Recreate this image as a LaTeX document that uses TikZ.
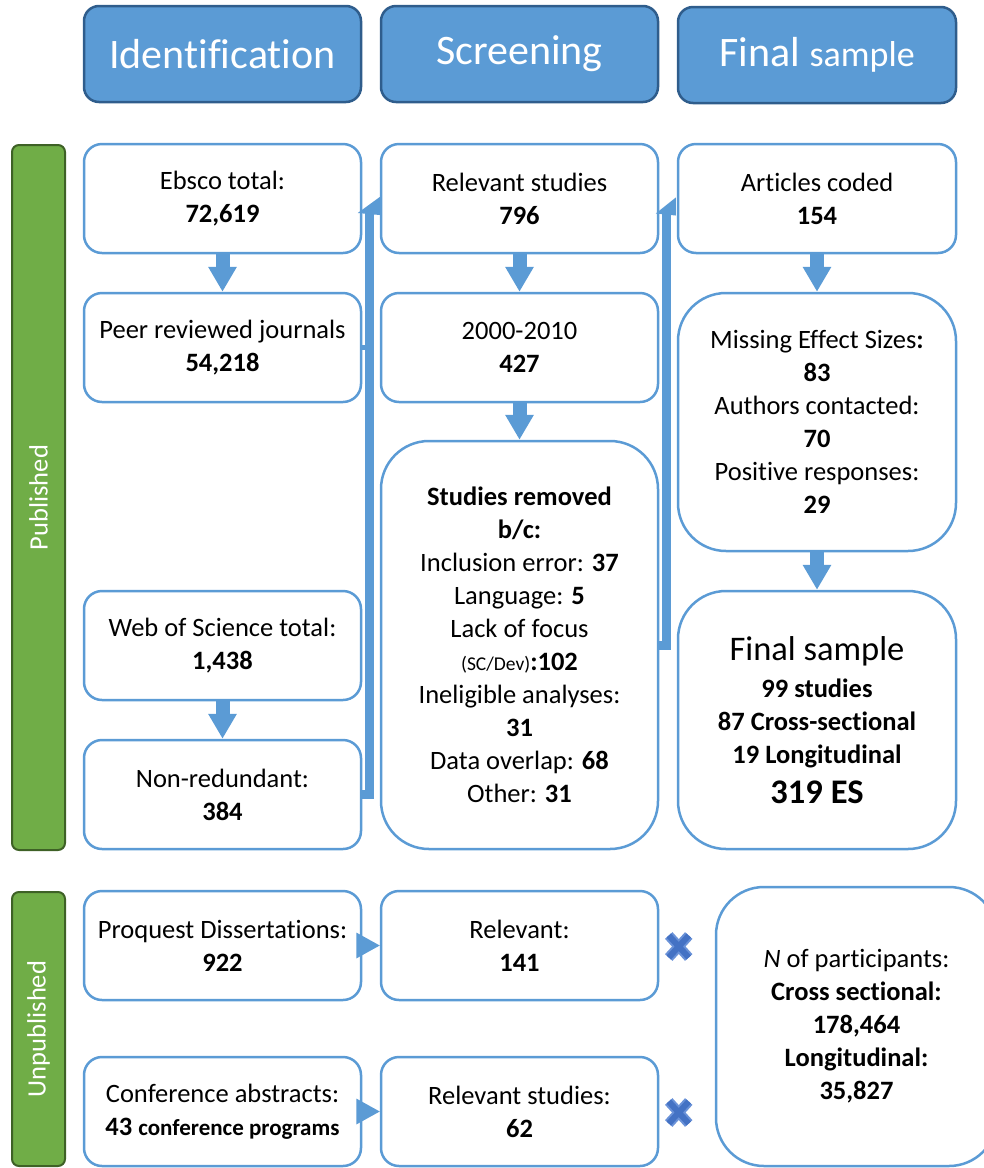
\documentclass[tikz,border=0pt]{standalone}
\usepackage{fontspec}
\setmainfont{Carlito}[RawFeature={-liga,-clig,-calt,-dlig}]
\usetikzlibrary{arrows.meta,calc}
\definecolor{acc}{HTML}{5B9BD5}
\definecolor{accdark}{HTML}{2F5D8C}
\definecolor{grn}{HTML}{70AD47}
\definecolor{grndark}{HTML}{3E6126}
\definecolor{xblue}{HTML}{4472C4}
\definecolor{xlight}{HTML}{6A92D8}
\tikzset{
 base/.style={font=\fontsize{26.5}{33}\selectfont, align=center, inner sep=0pt},
 box/.style={base, draw=acc, line width=2.5pt, rounded corners=18pt, minimum width=277pt, minimum height=109pt, fill=white},
 bigbox/.style={box, rounded corners=48pt},
 headbox/.style={draw=accdark, line width=2.5pt, fill=acc, rounded corners=15pt, minimum width=277pt, minimum height=96pt, text=white, font=\fontsize{42}{50}\selectfont, inner sep=0pt},
 sidebar/.style={draw=grndark, line width=2pt, fill=grn, rounded corners=7pt, text=white, rotate=90, minimum height=53pt, font=\fontsize{26.5}{32}\selectfont, inner sep=0pt},
 downarrow/.style={draw=acc, line width=14pt, -{Triangle[width=27pt,length=25pt]}},
 shaft/.style={draw=acc, line width=9pt, line join=miter},
 xmarkout/.style={draw=xlight, line width=10pt},
 xmarkin/.style={draw=xblue, line width=6pt},
}
\begin{document}
\begin{tikzpicture}[x=1pt,y=-1pt]
\useasboundingbox (0,0) rectangle (984,1168);
\clip (0,0) rectangle (984,1168);

% headers
\node[headbox] (hid) at (222.5,54) {Identification};
\node[headbox] (hsc) at (519.5,54) {Screening};
\node[headbox, minimum width=278pt] (hfs) at (817,55) {Final {\fontsize{36}{44}\selectfont sample}};

% side bars
\node[sidebar, minimum width=705pt] (pub) at (38.5,497.5) {Published};
\node[sidebar, minimum width=274pt] (unp) at (38.5,1029) {Unpublished};

% identification column
\node[box] (ebsco) at (222.5,198.5) {Ebsco total:\\\textbf{72,619}};
\node[box] (peer) at (222.5,347.5) {Peer reviewed journals\\\textbf{54,218}};
\node[box] (wos) at (222.5,645.5) {Web of Science total:\\\textbf{1,438}};
\node[box] (nonred) at (222.5,794.5) {Non-redundant:\\\textbf{384}};

% screening column
\node[box] (rel) at (519.5,198.5) {Relevant studies\\\textbf{796}};
\node[box] (y2000) at (519.5,347.5) {2000-2010\\\textbf{427}};
\node[bigbox, minimum height=408pt] (rem) at (519.5,645) {\textbf{Studies removed}\\\textbf{b/c:}\\Inclusion error: \textbf{37}\\Language: \textbf{5}\\Lack of focus\\{\fontsize{19.5}{22}\selectfont (SC/Dev)}\textbf{:102}\\Ineligible analyses:\\\textbf{31}\\Data overlap: \textbf{68}\\Other: \textbf{31}};

% final sample column
\node[box, minimum width=278pt] (coded) at (817,198.5) {Articles coded\\\textbf{154}};
\node[bigbox, minimum width=278pt, minimum height=258pt] (miss) at (817,422) {Missing Effect Sizes\textbf{:}\\\textbf{83}\\Authors contacted:\\\textbf{70}\\Positive responses:\\\textbf{29}};
\node[bigbox, minimum width=278pt, minimum height=258pt] (final) at (817,720) {{\fontsize{34.5}{40}\selectfont Final sample}\\[4pt]\textbf{99 studies}\\\textbf{87 Cross-sectional}\\\textbf{19 Longitudinal}\\[7pt]{\fontsize{34.5}{40}\selectfont\bfseries 319 ES}};

% unpublished
\node[box] (pq) at (222.5,945.5) {Proquest Dissertations:\\\textbf{922}};
\node[box] (rel1) at (519.5,945.5) {Relevant:\\\textbf{141}};
\node[box] (conf) at (222.5,1111.5) {Conference abstracts:\\\textbf{43 {\fontsize{23}{28}\selectfont conference programs}}};
\node[box] (rel2) at (519.5,1111.5) {Relevant studies:\\\textbf{62}};
\node[bigbox, minimum width=281pt, minimum height=279pt] (npart) at (856.5,1026.5) {\textit{N} of participants:\\\textbf{Cross sectional:}\\\textbf{178,464}\\\textbf{Longitudinal:}\\\textbf{35,827}};

% down arrows
\draw[downarrow] (ebsco) -- (peer);
\draw[downarrow] (wos) -- (nonred);
\draw[downarrow] (rel) -- (y2000);
\draw[downarrow] (y2000) -- (rem);
\draw[downarrow] (coded) -- (miss);
\draw[downarrow] (miss) -- (final);

% long connector 1
\coordinate (t1) at ($(rel.west)+(-10.5,14.5)$);
\draw[shaft] (nonred.east) -- (nonred.east -| t1) -- (t1);
\draw[draw=acc, line width=5pt] (peer.east) -- (peer.east -| t1);
\fill[acc] ($(t1)+(-11.5,0)$) -- ($(t1)+(10.5,-16)$) -- ($(t1)+(10.5,2)$) -- cycle;

% long connector 2
\coordinate (t2) at ($(coded.west)+(-10,15)$);
\draw[shaft] (rem.east) -- (rem.east -| t2) -- (t2);
\fill[acc] ($(t2)+(-11,0)$) -- ($(t2)+(9,-16)$) -- ($(t2)+(9,2)$) -- cycle;

% horizontal heads
\fill[acc] ([xshift=-6pt,yshift=13pt]pq.east) -- (rel1.west) -- ([xshift=-6pt,yshift=-13pt]pq.east) -- cycle;
\fill[acc] ([xshift=-6pt,yshift=13pt]conf.east) -- (rel2.west) -- ([xshift=-6pt,yshift=-13pt]conf.east) -- cycle;

% x marks
\coordinate (x1) at ($(rel1.east)+(19.5,1)$);
\coordinate (x2) at ($(rel2.east)+(19.5,1)$);
\foreach \c in {x1,x2}{
  \draw[xmarkout] ($(\c)+(-10,-11)$) -- ($(\c)+(10,11)$) ($(\c)+(-10,11)$) -- ($(\c)+(10,-11)$);
  \draw[xmarkin] ($(\c)+(-10,-11)$) -- ($(\c)+(10,11)$) ($(\c)+(-10,11)$) -- ($(\c)+(10,-11)$);
}
\end{tikzpicture}
\end{document}
